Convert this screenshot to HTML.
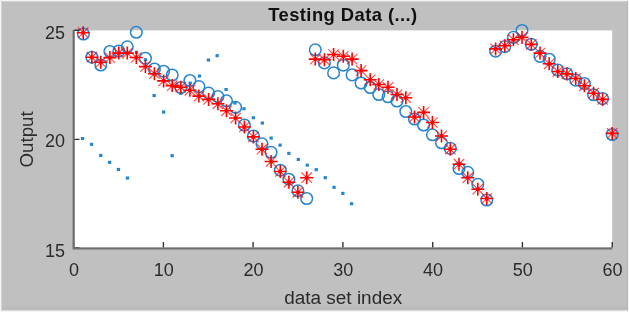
<!DOCTYPE html>
<html><head><meta charset="utf-8"><style>
html,body{margin:0;padding:0;}
body{width:629px;height:312px;overflow:hidden;background:#c0c0c0;}
svg{display:block;will-change:transform;}
text{font-family:"Liberation Sans",sans-serif;fill:#2b2b2b;}
</style></head><body>
<svg width="629" height="312" viewBox="0 0 629 312">
<rect x="0" y="0" width="629" height="312" fill="#c0c0c0"/>
<rect x="1" y="306.8" width="627" height="3" fill="#bababa"/>
<rect x="626.8" y="1" width="0.9" height="309" fill="#b8b8b8"/>
<rect x="0" y="310" width="629" height="1" fill="#dcdcdc"/>
<rect x="1" y="1" width="1" height="309" fill="#d4d4d4"/>
<rect x="1" y="1" width="626" height="0.8" fill="#d4d4d4"/>
<path d="M0.5 312V0.5H628.5V311.5H0" fill="none" stroke="#f4f4f4" stroke-width="1"/>
<rect x="74" y="30.4" width="538.2" height="217" fill="#ffffff"/>
<rect x="80.9" y="137.0" width="3.3" height="3.1" fill="#2784cf"/>
<rect x="89.9" y="142.8" width="3.3" height="3.1" fill="#2784cf"/>
<rect x="99.1" y="153.9" width="3.3" height="3.1" fill="#2784cf"/>
<rect x="107.9" y="160.8" width="3.3" height="3.1" fill="#2784cf"/>
<rect x="116.8" y="167.9" width="3.3" height="3.1" fill="#2784cf"/>
<rect x="125.8" y="176.5" width="3.3" height="3.1" fill="#2784cf"/>
<rect x="134.9" y="50.7" width="3.3" height="3.1" fill="#2784cf"/>
<rect x="143.8" y="58.2" width="3.3" height="3.1" fill="#2784cf"/>
<rect x="152.5" y="94.0" width="3.3" height="3.1" fill="#2784cf"/>
<rect x="162.0" y="110.5" width="3.3" height="3.1" fill="#2784cf"/>
<rect x="170.5" y="154.1" width="3.3" height="3.1" fill="#2784cf"/>
<rect x="179.2" y="91.8" width="3.3" height="3.1" fill="#2784cf"/>
<rect x="188.5" y="81.5" width="3.3" height="3.1" fill="#2784cf"/>
<rect x="197.8" y="74.5" width="3.3" height="3.1" fill="#2784cf"/>
<rect x="206.8" y="58.5" width="3.3" height="3.1" fill="#2784cf"/>
<rect x="215.5" y="54.1" width="3.3" height="3.1" fill="#2784cf"/>
<rect x="224.4" y="88.0" width="3.3" height="3.1" fill="#2784cf"/>
<rect x="233.3" y="101.5" width="3.3" height="3.1" fill="#2784cf"/>
<rect x="242.3" y="107.2" width="3.3" height="3.1" fill="#2784cf"/>
<rect x="251.7" y="116.2" width="3.3" height="3.1" fill="#2784cf"/>
<rect x="260.7" y="121.5" width="3.3" height="3.1" fill="#2784cf"/>
<rect x="269.5" y="136.5" width="3.3" height="3.1" fill="#2784cf"/>
<rect x="278.4" y="143.6" width="3.3" height="3.1" fill="#2784cf"/>
<rect x="287.2" y="151.8" width="3.3" height="3.1" fill="#2784cf"/>
<rect x="296.7" y="157.9" width="3.3" height="3.1" fill="#2784cf"/>
<rect x="305.6" y="163.6" width="3.3" height="3.1" fill="#2784cf"/>
<rect x="314.6" y="168.1" width="3.3" height="3.1" fill="#2784cf"/>
<rect x="323.6" y="176.1" width="3.3" height="3.1" fill="#2784cf"/>
<rect x="332.4" y="185.8" width="3.3" height="3.1" fill="#2784cf"/>
<rect x="341.2" y="191.8" width="3.3" height="3.1" fill="#2784cf"/>
<rect x="349.9" y="202.2" width="3.3" height="3.1" fill="#2784cf"/>
<g fill="none" stroke="#2784cf" stroke-width="1.5"><circle cx="83.4" cy="34.0" r="5.8"/><circle cx="91.9" cy="57.2" r="5.8"/><circle cx="100.8" cy="65.0" r="5.8"/><circle cx="109.9" cy="51.5" r="5.8"/><circle cx="118.8" cy="51.0" r="5.8"/><circle cx="127.3" cy="46.8" r="5.8"/><circle cx="136.3" cy="32.3" r="5.8"/><circle cx="145.4" cy="58.2" r="5.8"/><circle cx="154.4" cy="69.0" r="5.8"/><circle cx="163.6" cy="71.2" r="5.8"/><circle cx="172.2" cy="75.0" r="5.8"/><circle cx="180.8" cy="87.5" r="5.8"/><circle cx="189.9" cy="80.5" r="5.8"/><circle cx="198.9" cy="86.6" r="5.8"/><circle cx="208.6" cy="93.1" r="5.8"/><circle cx="217.9" cy="96.6" r="5.8"/><circle cx="226.5" cy="100.8" r="5.8"/><circle cx="235.6" cy="107.3" r="5.8"/><circle cx="244.4" cy="125.0" r="5.8"/><circle cx="253.4" cy="136.0" r="5.8"/><circle cx="262.0" cy="143.8" r="5.8"/><circle cx="271.1" cy="152.3" r="5.8"/><circle cx="280.3" cy="170.2" r="5.8"/><circle cx="288.9" cy="179.2" r="5.8"/><circle cx="297.9" cy="190.8" r="5.8"/><circle cx="306.7" cy="198.5" r="5.8"/><circle cx="315.3" cy="49.8" r="5.8"/><circle cx="324.4" cy="62.9" r="5.8"/><circle cx="333.6" cy="72.9" r="5.8"/><circle cx="343.3" cy="65.2" r="5.8"/><circle cx="352.1" cy="74.9" r="5.8"/><circle cx="361.1" cy="83.0" r="5.8"/><circle cx="370.2" cy="87.5" r="5.8"/><circle cx="378.8" cy="94.5" r="5.8"/><circle cx="388.0" cy="96.8" r="5.8"/><circle cx="397.0" cy="101.0" r="5.8"/><circle cx="405.8" cy="111.5" r="5.8"/><circle cx="414.5" cy="119.0" r="5.8"/><circle cx="423.6" cy="125.0" r="5.8"/><circle cx="432.4" cy="134.8" r="5.8"/><circle cx="441.5" cy="142.8" r="5.8"/><circle cx="450.3" cy="148.4" r="5.8"/><circle cx="459.0" cy="168.5" r="5.8"/><circle cx="467.8" cy="172.3" r="5.8"/><circle cx="477.8" cy="184.2" r="5.8"/><circle cx="486.8" cy="200.0" r="5.8"/><circle cx="495.6" cy="51.2" r="5.8"/><circle cx="504.8" cy="46.6" r="5.8"/><circle cx="513.4" cy="37.4" r="5.8"/><circle cx="522.0" cy="30.5" r="5.8"/><circle cx="531.3" cy="44.3" r="5.8"/><circle cx="540.0" cy="56.4" r="5.8"/><circle cx="549.2" cy="59.2" r="5.8"/><circle cx="557.8" cy="70.0" r="5.8"/><circle cx="566.9" cy="73.8" r="5.8"/><circle cx="575.7" cy="80.1" r="5.8"/><circle cx="584.4" cy="83.5" r="5.8"/><circle cx="593.6" cy="94.8" r="5.8"/><circle cx="602.6" cy="98.6" r="5.8"/><circle cx="612.2" cy="134.5" r="5.8"/></g>
<path fill="none" stroke="#ff0000" stroke-opacity="0.7" stroke-width="1.15" d="M78.0 27.5l10.4 10.4M78.0 37.9l10.4 -10.4M86.7 52.0l10.4 10.4M86.7 62.4l10.4 -10.4M95.6 57.0l10.4 10.4M95.6 67.4l10.4 -10.4M104.7 52.4l10.4 10.4M104.7 62.8l10.4 -10.4M113.6 47.9l10.4 10.4M113.6 58.3l10.4 -10.4M122.1 47.9l10.4 10.4M122.1 58.3l10.4 -10.4M131.1 52.3l10.4 10.4M131.1 62.7l10.4 -10.4M140.2 61.4l10.4 10.4M140.2 71.8l10.4 -10.4M149.2 68.5l10.4 10.4M149.2 78.9l10.4 -10.4M158.4 75.7l10.4 10.4M158.4 86.1l10.4 -10.4M167.0 80.4l10.4 10.4M167.0 90.8l10.4 -10.4M175.6 82.0l10.4 10.4M175.6 92.4l10.4 -10.4M184.7 85.1l10.4 10.4M184.7 95.5l10.4 -10.4M193.7 90.9l10.4 10.4M193.7 101.3l10.4 -10.4M203.4 94.2l10.4 10.4M203.4 104.6l10.4 -10.4M212.7 98.6l10.4 10.4M212.7 109.0l10.4 -10.4M221.3 105.6l10.4 10.4M221.3 116.0l10.4 -10.4M230.4 112.8l10.4 10.4M230.4 123.2l10.4 -10.4M239.2 121.8l10.4 10.4M239.2 132.2l10.4 -10.4M248.2 131.7l10.4 10.4M248.2 142.1l10.4 -10.4M256.8 144.0l10.4 10.4M256.8 154.4l10.4 -10.4M265.9 156.3l10.4 10.4M265.9 166.7l10.4 -10.4M275.1 166.3l10.4 10.4M275.1 176.7l10.4 -10.4M283.7 177.1l10.4 10.4M283.7 187.5l10.4 -10.4M292.7 187.1l10.4 10.4M292.7 197.5l10.4 -10.4M301.5 172.5l10.4 10.4M301.5 182.9l10.4 -10.4M310.1 53.9l10.4 10.4M310.1 64.3l10.4 -10.4M319.2 54.6l10.4 10.4M319.2 65.0l10.4 -10.4M328.4 49.3l10.4 10.4M328.4 59.7l10.4 -10.4M338.1 51.1l10.4 10.4M338.1 61.5l10.4 -10.4M346.9 53.9l10.4 10.4M346.9 64.3l10.4 -10.4M355.9 65.4l10.4 10.4M355.9 75.8l10.4 -10.4M365.0 74.6l10.4 10.4M365.0 85.0l10.4 -10.4M373.6 79.3l10.4 10.4M373.6 89.7l10.4 -10.4M382.8 82.1l10.4 10.4M382.8 92.5l10.4 -10.4M391.8 89.3l10.4 10.4M391.8 99.7l10.4 -10.4M400.6 92.5l10.4 10.4M400.6 102.9l10.4 -10.4M409.3 111.8l10.4 10.4M409.3 122.2l10.4 -10.4M418.4 107.2l10.4 10.4M418.4 117.6l10.4 -10.4M427.2 117.3l10.4 10.4M427.2 127.7l10.4 -10.4M436.3 130.8l10.4 10.4M436.3 141.2l10.4 -10.4M445.1 144.0l10.4 10.4M445.1 154.4l10.4 -10.4M453.8 159.0l10.4 10.4M453.8 169.4l10.4 -10.4M462.6 172.5l10.4 10.4M462.6 182.9l10.4 -10.4M472.6 184.0l10.4 10.4M472.6 194.4l10.4 -10.4M481.6 193.3l10.4 10.4M481.6 203.7l10.4 -10.4M490.4 43.7l10.4 10.4M490.4 54.1l10.4 -10.4M499.6 40.6l10.4 10.4M499.6 51.0l10.4 -10.4M508.2 34.5l10.4 10.4M508.2 44.9l10.4 -10.4M516.8 32.2l10.4 10.4M516.8 42.6l10.4 -10.4M526.1 39.2l10.4 10.4M526.1 49.6l10.4 -10.4M534.8 47.9l10.4 10.4M534.8 58.3l10.4 -10.4M544.0 58.6l10.4 10.4M544.0 69.0l10.4 -10.4M552.6 66.3l10.4 10.4M552.6 76.7l10.4 -10.4M561.7 68.7l10.4 10.4M561.7 79.1l10.4 -10.4M570.5 73.3l10.4 10.4M570.5 83.7l10.4 -10.4M579.2 80.6l10.4 10.4M579.2 91.0l10.4 -10.4M588.4 88.0l10.4 10.4M588.4 98.4l10.4 -10.4M597.4 94.2l10.4 10.4M597.4 104.6l10.4 -10.4M607.0 128.2l10.4 10.4M607.0 138.6l10.4 -10.4"/>
<path fill="none" stroke="#ff0000" stroke-width="1.6" d="M76.7 32.7h13.0M83.2 26.2v13.0M85.4 57.2h13.0M91.9 50.7v13.0M94.3 62.2h13.0M100.8 55.7v13.0M103.4 57.6h13.0M109.9 51.1v13.0M112.3 53.1h13.0M118.8 46.6v13.0M120.8 53.1h13.0M127.3 46.6v13.0M129.8 57.5h13.0M136.3 51.0v13.0M138.9 66.6h13.0M145.4 60.1v13.0M147.9 73.7h13.0M154.4 67.2v13.0M157.1 80.9h13.0M163.6 74.4v13.0M165.7 85.6h13.0M172.2 79.1v13.0M174.3 87.2h13.0M180.8 80.7v13.0M183.4 90.3h13.0M189.9 83.8v13.0M192.4 96.1h13.0M198.9 89.6v13.0M202.1 99.4h13.0M208.6 92.9v13.0M211.4 103.8h13.0M217.9 97.3v13.0M220.0 110.8h13.0M226.5 104.3v13.0M229.1 118.0h13.0M235.6 111.5v13.0M237.9 127.0h13.0M244.4 120.5v13.0M246.9 136.9h13.0M253.4 130.4v13.0M255.5 149.2h13.0M262.0 142.7v13.0M264.6 161.5h13.0M271.1 155.0v13.0M273.8 171.5h13.0M280.3 165.0v13.0M282.4 182.3h13.0M288.9 175.8v13.0M291.4 192.3h13.0M297.9 185.8v13.0M300.2 177.7h13.0M306.7 171.2v13.0M308.8 59.1h13.0M315.3 52.6v13.0M317.9 59.8h13.0M324.4 53.3v13.0M327.1 54.5h13.0M333.6 48.0v13.0M336.8 56.3h13.0M343.3 49.8v13.0M345.6 59.1h13.0M352.1 52.6v13.0M354.6 70.6h13.0M361.1 64.1v13.0M363.7 79.8h13.0M370.2 73.3v13.0M372.3 84.5h13.0M378.8 78.0v13.0M381.5 87.3h13.0M388.0 80.8v13.0M390.5 94.5h13.0M397.0 88.0v13.0M399.3 97.7h13.0M405.8 91.2v13.0M408.0 117.0h13.0M414.5 110.5v13.0M417.1 112.4h13.0M423.6 105.9v13.0M425.9 122.5h13.0M432.4 116.0v13.0M435.0 136.0h13.0M441.5 129.5v13.0M443.8 149.2h13.0M450.3 142.7v13.0M452.5 164.2h13.0M459.0 157.7v13.0M461.3 177.7h13.0M467.8 171.2v13.0M471.3 189.2h13.0M477.8 182.7v13.0M480.3 198.5h13.0M486.8 192.0v13.0M489.1 48.9h13.0M495.6 42.4v13.0M498.3 45.8h13.0M504.8 39.3v13.0M506.9 39.7h13.0M513.4 33.2v13.0M515.5 37.4h13.0M522.0 30.9v13.0M524.8 44.4h13.0M531.3 37.9v13.0M533.5 53.1h13.0M540.0 46.6v13.0M542.7 63.8h13.0M549.2 57.3v13.0M551.3 71.5h13.0M557.8 65.0v13.0M560.4 73.9h13.0M566.9 67.4v13.0M569.2 78.5h13.0M575.7 72.0v13.0M577.9 85.8h13.0M584.4 79.3v13.0M587.1 93.2h13.0M593.6 86.7v13.0M596.1 99.4h13.0M602.6 92.9v13.0M605.7 133.4h13.0M612.2 126.9v13.0"/>
<g fill="#ff0000"><circle cx="83.2" cy="32.7" r="1.9"/><circle cx="91.9" cy="57.2" r="1.9"/><circle cx="100.8" cy="62.2" r="1.9"/><circle cx="109.9" cy="57.6" r="1.9"/><circle cx="118.8" cy="53.1" r="1.9"/><circle cx="127.3" cy="53.1" r="1.9"/><circle cx="136.3" cy="57.5" r="1.9"/><circle cx="145.4" cy="66.6" r="1.9"/><circle cx="154.4" cy="73.7" r="1.9"/><circle cx="163.6" cy="80.9" r="1.9"/><circle cx="172.2" cy="85.6" r="1.9"/><circle cx="180.8" cy="87.2" r="1.9"/><circle cx="189.9" cy="90.3" r="1.9"/><circle cx="198.9" cy="96.1" r="1.9"/><circle cx="208.6" cy="99.4" r="1.9"/><circle cx="217.9" cy="103.8" r="1.9"/><circle cx="226.5" cy="110.8" r="1.9"/><circle cx="235.6" cy="118.0" r="1.9"/><circle cx="244.4" cy="127.0" r="1.9"/><circle cx="253.4" cy="136.9" r="1.9"/><circle cx="262.0" cy="149.2" r="1.9"/><circle cx="271.1" cy="161.5" r="1.9"/><circle cx="280.3" cy="171.5" r="1.9"/><circle cx="288.9" cy="182.3" r="1.9"/><circle cx="297.9" cy="192.3" r="1.9"/><circle cx="306.7" cy="177.7" r="1.9"/><circle cx="315.3" cy="59.1" r="1.9"/><circle cx="324.4" cy="59.8" r="1.9"/><circle cx="333.6" cy="54.5" r="1.9"/><circle cx="343.3" cy="56.3" r="1.9"/><circle cx="352.1" cy="59.1" r="1.9"/><circle cx="361.1" cy="70.6" r="1.9"/><circle cx="370.2" cy="79.8" r="1.9"/><circle cx="378.8" cy="84.5" r="1.9"/><circle cx="388.0" cy="87.3" r="1.9"/><circle cx="397.0" cy="94.5" r="1.9"/><circle cx="405.8" cy="97.7" r="1.9"/><circle cx="414.5" cy="117.0" r="1.9"/><circle cx="423.6" cy="112.4" r="1.9"/><circle cx="432.4" cy="122.5" r="1.9"/><circle cx="441.5" cy="136.0" r="1.9"/><circle cx="450.3" cy="149.2" r="1.9"/><circle cx="459.0" cy="164.2" r="1.9"/><circle cx="467.8" cy="177.7" r="1.9"/><circle cx="477.8" cy="189.2" r="1.9"/><circle cx="486.8" cy="198.5" r="1.9"/><circle cx="495.6" cy="48.9" r="1.9"/><circle cx="504.8" cy="45.8" r="1.9"/><circle cx="513.4" cy="39.7" r="1.9"/><circle cx="522.0" cy="37.4" r="1.9"/><circle cx="531.3" cy="44.4" r="1.9"/><circle cx="540.0" cy="53.1" r="1.9"/><circle cx="549.2" cy="63.8" r="1.9"/><circle cx="557.8" cy="71.5" r="1.9"/><circle cx="566.9" cy="73.9" r="1.9"/><circle cx="575.7" cy="78.5" r="1.9"/><circle cx="584.4" cy="85.8" r="1.9"/><circle cx="593.6" cy="93.2" r="1.9"/><circle cx="602.6" cy="99.4" r="1.9"/><circle cx="612.2" cy="133.4" r="1.9"/></g>
<path d="M73.6 247.5v-5.6M163.4 247.5v-5.6M253.1 247.5v-5.6M342.9 247.5v-5.6M432.7 247.5v-5.6M522.4 247.5v-5.6M612.2 247.5v-5.6M74 30.3h5.5M74 139.4h5.5M74 247.9h5.5" stroke="#333" stroke-width="1.4" fill="none"/>
<path d="M73.7 30.0V248.5H612.2" stroke="#6e6e6e" stroke-width="2.2" fill="none"/>
<g font-size="18">
<text x="65" y="38.6" text-anchor="end">25</text>
<text x="65" y="146.8" text-anchor="end">20</text>
<text x="65" y="256.7" text-anchor="end">15</text>
<text x="73.9" y="275.8" text-anchor="middle">0</text><text x="163.7" y="275.8" text-anchor="middle">10</text><text x="253.4" y="275.8" text-anchor="middle">20</text><text x="343.2" y="275.8" text-anchor="middle">30</text><text x="433.0" y="275.8" text-anchor="middle">40</text><text x="522.7" y="275.8" text-anchor="middle">50</text><text x="612.5" y="275.8" text-anchor="middle">60</text>
<text x="343.2" y="304.3" text-anchor="middle" textLength="118" lengthAdjust="spacingAndGlyphs">data set index</text>
<text transform="translate(33.4,139.4) rotate(-90)" text-anchor="middle" font-size="18.7">Output</text>
</g>
<text x="342.7" y="21.2" text-anchor="middle" font-size="18.4" font-weight="bold" fill="#000" style="fill:#111" textLength="149" lengthAdjust="spacing">Testing Data (...)</text>
</svg>
</body></html>
